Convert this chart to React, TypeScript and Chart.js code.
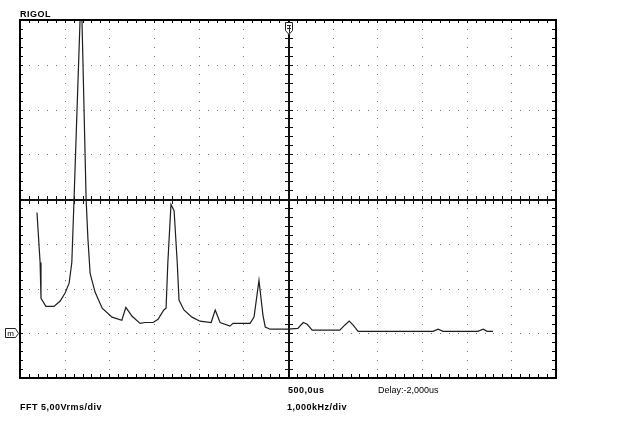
import React, { useEffect, useRef } from "react";
import { Chart, registerables } from "chart.js";

Chart.register(...registerables);

// FFT trace: frequency in kHz (1.000 kHz/div), amplitude in Vrms relative to the "m" reference (5.00 Vrms/div)
const freqKHz = [
  0.38, 0.45, 0.47, 0.58, 0.76, 0.9, 1.01, 1.1, 1.16, 1.21, 1.37, 1.48, 1.52, 1.57, 1.68, 1.84,
  2.06, 2.28, 2.37, 2.51, 2.69, 2.8, 2.98, 3.09, 3.22, 3.27, 3.31, 3.38, 3.45, 3.52, 3.56, 3.67,
  3.85, 4.03, 4.28, 4.37, 4.48, 4.7, 4.77, 5.15, 5.24, 5.35, 5.44, 5.49, 5.6, 6.0, 6.22, 6.34,
  6.43, 6.54, 7.16, 7.27, 7.37, 7.46, 7.57, 9.25, 9.36, 9.47, 10.25, 10.37, 10.46, 10.59,
];
const amplitudeVrms = [
  13.5, 7.9, 3.9, 3.0, 3.0, 3.6, 4.5, 5.6, 7.9, 15.0, 38.8, 15.0, 10.6, 6.7, 4.6, 2.8,
  1.8, 1.45, 2.9, 1.9, 1.1, 1.2, 1.2, 1.55, 2.6, 2.8, 7.9, 14.4, 13.7, 7.9, 3.7, 2.6,
  1.8, 1.35, 1.2, 2.6, 1.2, 0.8, 1.1, 1.1, 1.8, 5.9, 2.0, 0.7, 0.45, 0.45, 0.55, 1.2,
  1.0, 0.35, 0.35, 0.9, 1.35, 0.9, 0.22, 0.22, 0.45, 0.22, 0.22, 0.45, 0.22, 0.22,
];

const xDivs = [0, 1, 2, 3, 4, 5, 6, 7, 8, 9, 10, 11, 12];
const yDivs = [-5, 0, 5, 10, 15, 20, 25, 30, 35];
const xCenter = 6;
const yCenter = 15;
const markerLevel = 0;

const scopePlugin = {
  id: "scope",
  beforeDatasetsDraw(chart: any) {
    const { ctx, chartArea, scales } = chart;
    const xs = scales.x;
    const ys = scales.y;
    ctx.save();
    // dotted grid
    ctx.fillStyle = "#7a7a7a";
    const xMinorStep = (xDivs[1] - xDivs[0]) / 5;
    const yMinorStep = (yDivs[1] - yDivs[0]) / 5;
    for (let i = 1; i < xDivs.length - 1; i++) {
      if (xDivs[i] === xCenter) continue;
      const px = Math.round(xs.getPixelForValue(xDivs[i]));
      for (let v = yDivs[0] + yMinorStep; v < yDivs[yDivs.length - 1]; v += yMinorStep) {
        const py = Math.round(ys.getPixelForValue(v));
        ctx.fillRect(px, py, 1, 1);
      }
    }
    for (let j = 1; j < yDivs.length - 1; j++) {
      if (yDivs[j] === yCenter) continue;
      const py = Math.round(ys.getPixelForValue(yDivs[j]));
      for (let v = xDivs[0] + xMinorStep; v < xDivs[xDivs.length - 1]; v += xMinorStep) {
        const px = Math.round(xs.getPixelForValue(v));
        ctx.fillRect(px, py, 1, 1);
      }
    }
    // center axes with ticks
    ctx.fillStyle = "#111";
    const cx = Math.round(xs.getPixelForValue(xCenter));
    const cy = Math.round(ys.getPixelForValue(yCenter));
    ctx.fillRect(chartArea.left, cy, chartArea.right - chartArea.left, 2);
    ctx.fillRect(cx, chartArea.top, 2, chartArea.bottom - chartArea.top);
    for (let v = xDivs[0] + xMinorStep; v < xDivs[xDivs.length - 1]; v += xMinorStep) {
      const px = Math.round(xs.getPixelForValue(v));
      ctx.fillRect(px, cy - 3, 1, 8);
    }
    for (let v = yDivs[0] + yMinorStep; v < yDivs[yDivs.length - 1]; v += yMinorStep) {
      const py = Math.round(ys.getPixelForValue(v));
      ctx.fillRect(cx - 3, py, 8, 1);
    }
    ctx.restore();
  },
  afterDatasetsDraw(chart: any) {
    const { ctx, chartArea, scales } = chart;
    const xs = scales.x;
    const ys = scales.y;
    const { left, right, top, bottom } = chartArea;
    ctx.save();
    ctx.fillStyle = "#000";
    // border
    ctx.fillRect(left - 1, top - 1, right - left + 2, 2);
    ctx.fillRect(left - 1, bottom - 1, right - left + 2, 2);
    ctx.fillRect(left - 1, top - 1, 2, bottom - top + 2);
    ctx.fillRect(right - 1, top - 1, 2, bottom - top + 2);
    const xMinorStep = (xDivs[1] - xDivs[0]) / 5;
    const yMinorStep = (yDivs[1] - yDivs[0]) / 5;
    for (let v = xDivs[0] + xMinorStep; v < xDivs[xDivs.length - 1] - 0.01; v += xMinorStep) {
      const px = Math.round(xs.getPixelForValue(v));
      ctx.fillRect(px, top, 1, 3);
      ctx.fillRect(px, bottom - 4, 1, 4);
    }
    for (let v = yDivs[0] + yMinorStep; v < yDivs[yDivs.length - 1] - 0.01; v += yMinorStep) {
      const py = Math.round(ys.getPixelForValue(v));
      ctx.fillRect(left, py, 3, 1);
      ctx.fillRect(right - 4, py, 4, 1);
    }
    // trigger marker
    const cx = Math.round(xs.getPixelForValue(xCenter)) + 1;
    ctx.beginPath();
    ctx.moveTo(cx - 3.5, top + 2.5);
    ctx.lineTo(cx + 3.5, top + 2.5);
    ctx.lineTo(cx + 3.5, top + 10.5);
    ctx.lineTo(cx, top + 14.5);
    ctx.lineTo(cx - 3.5, top + 10.5);
    ctx.closePath();
    ctx.fillStyle = "#fff";
    ctx.fill();
    ctx.strokeStyle = "#222";
    ctx.lineWidth = 1;
    ctx.stroke();
    ctx.beginPath();
    ctx.moveTo(cx - 2, top + 5.5);
    ctx.lineTo(cx + 2, top + 5.5);
    ctx.moveTo(cx - 2, top + 8.5);
    ctx.lineTo(cx + 2, top + 8.5);
    ctx.moveTo(cx + 0.5, top + 5.5);
    ctx.lineTo(cx + 0.5, top + 13);
    ctx.stroke();
    // reference marker "m"
    const my = Math.round(ys.getPixelForValue(markerLevel));
    ctx.beginPath();
    ctx.moveTo(5.5, my - 4.5);
    ctx.lineTo(15.5, my - 4.5);
    ctx.lineTo(18.5, my + 0.5);
    ctx.lineTo(15.5, my + 4.5);
    ctx.lineTo(5.5, my + 4.5);
    ctx.closePath();
    ctx.fillStyle = "#fff";
    ctx.fill();
    ctx.stroke();
    ctx.fillStyle = "#000";
    ctx.font = "8px 'Liberation Sans', Arial, sans-serif";
    ctx.textAlign = "center";
    ctx.textBaseline = "middle";
    ctx.fillText("m", 10.5, my + 0.5);
    // texts
    ctx.textAlign = "left";
    ctx.textBaseline = "alphabetic";
    (ctx as any).letterSpacing = "0.5px";
    ctx.font = "bold 9px 'Liberation Sans', Arial, sans-serif";
    ctx.fillText("RIGOL", 20, 17);
    ctx.fillText("500,0us", 288, 393);
    ctx.fillText("FFT 5,00Vrms/div", 20, 410);
    ctx.fillText("1,000kHz/div", 287, 410);
    ctx.font = "9px 'Liberation Sans', Arial, sans-serif";
    (ctx as any).letterSpacing = "0px";
    ctx.fillText("Delay:-2,000us", 378, 393);
    ctx.restore();
  },
};

export default function App() {
  const ref = useRef<HTMLCanvasElement>(null);
  useEffect(() => {
    if (!ref.current) return;
    const chart = new Chart(ref.current, {
      type: "line",
      data: {
        datasets: [
          {
            data: freqKHz.map((f, i) => ({ x: f, y: amplitudeVrms[i] })),
            borderColor: "#1e1e1e",
            borderWidth: 1.2,
            pointRadius: 0,
            tension: 0,
            fill: false,
          },
        ],
      },
      options: {
        responsive: false,
        animation: false,
        layout: { padding: { left: 20, top: 20, right: 69, bottom: 69 } },
        scales: {
          x: { type: "linear", min: xDivs[0], max: xDivs[xDivs.length - 1], display: false },
          y: { type: "linear", min: yDivs[0], max: yDivs[yDivs.length - 1], display: false },
        },
        plugins: { legend: { display: false }, tooltip: { enabled: false } },
      },
      plugins: [scopePlugin],
    });
    return () => chart.destroy();
  }, []);
  return (
    <div style={{ position: "absolute", left: 0, top: 0, width: 625, height: 447, background: "#fff" }}>
      <canvas ref={ref} width={625} height={447} style={{ display: "block" }} />
    </div>
  );
}
